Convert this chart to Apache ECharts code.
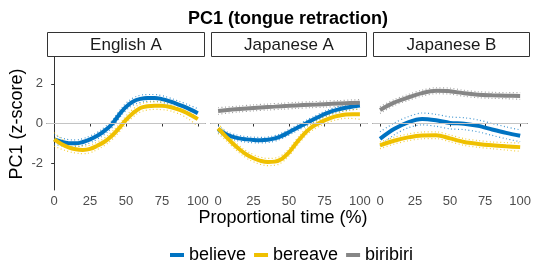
<!DOCTYPE html>
<html>
<head>
<meta charset="utf-8">
<script src="https://cdn.jsdelivr.net/npm/echarts@6/dist/echarts.min.js"></script>
<style>
  html, body { margin: 0; padding: 0; background: #fff; }
  #chart { width: 534px; height: 263px; }
</style>
</head>
<body>
<div id="chart"></div>
<script>
// time points (proportional time, %)
const timesFine = [0, 5, 10, 15, 20, 25, 30, 35, 40, 45, 50, 55, 60, 65, 70, 75, 80, 85, 90, 95, 100];
const timesCoarse = [0, 10, 20, 30, 40, 50, 60, 70, 80, 90, 100];
const panels = ["English A", "Japanese A", "Japanese B"];
const words = ["believe", "bereave", "biribiri"];
const xTicks = [0, 25, 50, 75, 100];
const yTicks = [-2, 0, 2];

// English A (fine time steps)
const engBelieve = [-0.80, -0.92, -0.99, -1.00, -0.93, -0.80, -0.62, -0.37, -0.05, 0.42, 0.84, 1.11, 1.24, 1.29, 1.29, 1.23, 1.13, 1.00, 0.86, 0.70, 0.52];
const engBereave = [-0.80, -1.03, -1.20, -1.30, -1.33, -1.28, -1.12, -0.92, -0.63, -0.25, 0.18, 0.53, 0.78, 0.87, 0.90, 0.89, 0.84, 0.74, 0.61, 0.43, 0.22];
const engBelieveCi = [0.24, 0.20, 0.18, 0.17, 0.17, 0.17, 0.17, 0.18, 0.18, 0.18, 0.18, 0.18, 0.18, 0.17, 0.17, 0.17, 0.17, 0.17, 0.18, 0.20, 0.22];
const engBereaveCi = [0.34, 0.26, 0.21, 0.19, 0.19, 0.19, 0.19, 0.19, 0.20, 0.20, 0.20, 0.20, 0.20, 0.19, 0.19, 0.19, 0.19, 0.20, 0.23, 0.28, 0.36];

// Japanese A
const jaBelieve = [-0.28, -0.52, -0.66, -0.75, -0.80, -0.83, -0.84, -0.82, -0.75, -0.62, -0.44, -0.25, -0.06, 0.12, 0.30, 0.47, 0.61, 0.71, 0.79, 0.85, 0.90];
const jaBereave = [-0.25, -0.62, -0.98, -1.30, -1.56, -1.75, -1.88, -1.94, -1.92, -1.78, -1.45, -1.00, -0.58, -0.24, -0.02, 0.16, 0.30, 0.39, 0.45, 0.47, 0.47];
const jaBiribiri = [0.63, 0.70, 0.76, 0.81, 0.85, 0.89, 0.93, 0.96, 0.99, 1.02, 1.04];
const jaBelieveCi = [0.18, 0.15, 0.14, 0.14, 0.14, 0.14, 0.14, 0.14, 0.14, 0.14, 0.14, 0.14, 0.14, 0.14, 0.14, 0.14, 0.14, 0.14, 0.14, 0.15, 0.17];
const jaBereaveCi = [0.26, 0.20, 0.18, 0.18, 0.18, 0.18, 0.18, 0.18, 0.18, 0.18, 0.18, 0.18, 0.18, 0.18, 0.18, 0.18, 0.18, 0.18, 0.19, 0.22, 0.26];
const jaBiribiriCi = [0.17, 0.15, 0.15, 0.15, 0.15, 0.15, 0.15, 0.15, 0.15, 0.15, 0.17];

// Japanese B (coarse time steps)
const jbBelieve = [-0.77, -0.28, 0.06, 0.23, 0.16, 0.03, -0.01, -0.12, -0.30, -0.47, -0.62];
const jbBereave = [-1.10, -0.87, -0.70, -0.60, -0.59, -0.75, -0.93, -1.03, -1.10, -1.15, -1.19];
const jbBiribiri = [0.68, 1.05, 1.31, 1.53, 1.65, 1.63, 1.52, 1.45, 1.42, 1.40, 1.39];
const jbBelieveCi = [0.35, 0.30, 0.28, 0.30, 0.30, 0.30, 0.30, 0.30, 0.30, 0.30, 0.30];
const jbBereaveCi = [0.17, 0.17, 0.17, 0.17, 0.17, 0.17, 0.17, 0.17, 0.17, 0.19, 0.21];
const jbBiribiriCi = [0.17, 0.15, 0.15, 0.15, 0.15, 0.15, 0.15, 0.15, 0.15, 0.15, 0.17];

const colors = { believe: "#0073C2", bereave: "#EFC000", biribiri: "#868686" };
const font = "'Liberation Sans', Arial, sans-serif";

const panelData = [
  { believe: [timesFine, engBelieve, engBelieveCi], bereave: [timesFine, engBereave, engBereaveCi] },
  { believe: [timesFine, jaBelieve, jaBelieveCi], bereave: [timesFine, jaBereave, jaBereaveCi], biribiri: [timesCoarse, jaBiribiri, jaBiribiriCi] },
  { believe: [timesCoarse, jbBelieve, jbBelieveCi], bereave: [timesCoarse, jbBereave, jbBereaveCi], biribiri: [timesCoarse, jbBiribiri, jbBiribiriCi] },
];

const grids = [
  { left: 47, top: 57, width: 158, height: 133 },
  { left: 211, top: 57, width: 156, height: 133 },
  { left: 373, top: 57, width: 157, height: 133 },
];

var chart = echarts.init(document.getElementById("chart"));

var xAxes = [], yAxes = [], series = [], graphics = [];
grids.forEach((g, i) => {
  xAxes.push({
    type: "value", gridIndex: i, min: -5, max: 105,
    axisLine: { show: true, lineStyle: { color: "#333", width: 1 } },
    axisTick: { show: true, length: 3, lineStyle: { color: "#333" }, customValues: xTicks },
    axisLabel: { color: "#4d4d4d", fontSize: 13, fontFamily: font, margin: 5, customValues: xTicks },
    splitLine: { show: false },
  });
  yAxes.push({
    type: "value", gridIndex: i, min: -3.35, max: 3.35,
    axisLine: { show: i === 0, lineStyle: { color: "#333", width: 1 } },
    axisTick: { show: i === 0, length: 3, lineStyle: { color: "#333" }, customValues: yTicks },
    axisLabel: { show: i === 0, color: "#4d4d4d", fontSize: 13, fontFamily: font, margin: 4, customValues: yTicks },
    splitLine: { show: false },
  });
  // zero reference line
  series.push({
    type: "line", xAxisIndex: i, yAxisIndex: i, data: [], silent: true, z: 1,
    markLine: {
      silent: true, symbol: "none", label: { show: false },
      lineStyle: { color: "#c4c4c4", width: 1, type: "solid" },
      data: [{ yAxis: 0 }],
      animation: false,
    },
  });
  // strip
  graphics.push({
    type: "rect", shape: { x: g.left + 0.5, y: 32.5, width: g.width - 1, height: 24 },
    style: { fill: "#fff", stroke: "#333", lineWidth: 1 },
  });
  graphics.push({
    type: "text", x: g.left + g.width / 2, y: 45,
    style: { text: panels[i], fill: "#1a1a1a", font: "17px " + font, align: "center", verticalAlign: "middle" },
  });

  const d = panelData[i];
  const sm = i === 2 ? 0.3 : 0.4;
  words.forEach((w) => {
    if (!d[w]) return;
    const ts = d[w][0], mean = d[w][1], ci = d[w][2];
    const up = ts.map((t, k) => [t, mean[k] + ci[k]]);
    const lo = ts.map((t, k) => [t, mean[k] - ci[k]]);
    [up, lo].forEach((band) => {
      series.push({
        name: w + " CI", type: "line", xAxisIndex: i, yAxisIndex: i, data: band,
        smooth: sm, showSymbol: false, silent: true, z: 2,
        lineStyle: { color: colors[w], width: 1.2, type: [1, 2.5], opacity: 0.75 },
      });
    });
    series.push({
      name: w, type: "line", xAxisIndex: i, yAxisIndex: i,
      data: ts.map((t, k) => [t, mean[k]]),
      smooth: sm, showSymbol: false, z: 3,
      itemStyle: { color: colors[w] },
      lineStyle: { color: colors[w], width: 4 },
    });
  });
});

chart.setOption({
  animation: false,
  backgroundColor: "#fff",
  title: {
    text: "PC1 (tongue retraction)", left: 283, top: 5, textAlign: "center",
    textStyle: { fontSize: 18, fontWeight: "bold", color: "#000", fontFamily: font },
  },
  legend: {
    data: words, top: 241, left: 165,
    icon: "rect", itemWidth: 14, itemHeight: 4, itemGap: 8,
    textStyle: { fontSize: 18, color: "#000", fontFamily: font },
  },
  grid: grids,
  xAxis: xAxes,
  yAxis: yAxes,
  series: series,
  graphic: graphics.concat([
    {
      type: "text", x: 283, y: 218,
      style: { text: "Proportional time (%)", fill: "#000", font: "18px " + font, align: "center", verticalAlign: "middle" },
    },
    {
      type: "text", x: 17, y: 124, rotation: Math.PI / 2,
      style: { text: "PC1 (z-score)", fill: "#000", font: "18px " + font, align: "center", verticalAlign: "middle" },
    },
  ]),
});
</script>
</body>
</html>
